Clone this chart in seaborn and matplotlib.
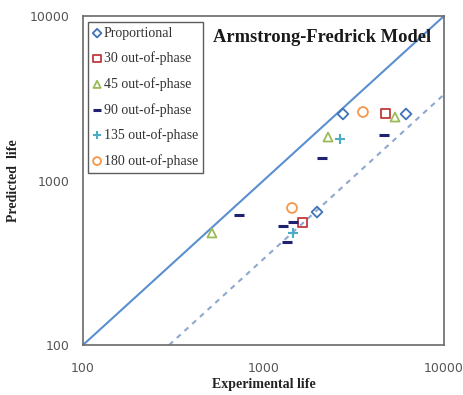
import matplotlib
matplotlib.use("Agg")
import matplotlib.pyplot as plt
import seaborn as sns
import pandas as pd
from matplotlib.ticker import LogLocator, NullFormatter, FixedLocator, FixedFormatter

sns.set_style("white")

# ---- data ----
series_names = ["Proportional", "30 out-of-phase", "45 out-of-phase",
                "90 out-of-phase", "135 out-of-phase", "180 out-of-phase"]
prop_x = [2756, 6158, 1979]
prop_y = [2537, 2537, 643]
p30_x = [4771, 1655]
p30_y = [2537, 559]
p45_x = [518, 2277, 5351]
p45_y = [480, 1838, 2432]
p90_x = [732, 2110, 4651, 1283, 1350, 1457]
p90_y = [617, 1370, 1890, 529, 423, 559]
p135_x = [2653, 1457]
p135_y = [1788, 480]
p180_x = [3557, 1438]
p180_y = [2609, 681]

line_x = [100, 10000]
line_y = [100, 10000]
factor3_x = [300, 10000]
factor3_y = [100, 3333]

tick_values = [100, 1000, 10000]
tick_labels = ["100", "1000", "10000"]

xs = [prop_x, p30_x, p45_x, p90_x, p135_x, p180_x]
ys = [prop_y, p30_y, p45_y, p90_y, p135_y, p180_y]
colors = ["#3f74b8", "#c0393b", "#9bbb59", "#1f2270", "#4bacc6", "#f79646"]
markers = ["D", "s", "^", "_", "+", "o"]
sizes = [30, 42, 42, 60, 45, 50]

fig = plt.figure(figsize=(4.64, 3.95), dpi=100)
ax = fig.add_axes([83/464, 1 - 345/395, 361/464, 329/395])
ax.set_xscale("log")
ax.set_yscale("log")

sns.lineplot(x=line_x, y=line_y, ax=ax, color="#5a8fd0", lw=1.5, zorder=1)
sns.lineplot(x=factor3_x, y=factor3_y, ax=ax, color="#8fa8cf", lw=1.5,
             zorder=1, linestyle=(0, (2.5, 2.5)))

for name, x, y, c, m, s in zip(series_names, xs, ys, colors, markers, sizes):
    df = pd.DataFrame({"x": x, "y": y})
    if m in ("_", "+"):
        sns.scatterplot(data=df, x="x", y="y", ax=ax, marker=m, s=s,
                        color=c, linewidth=2.2 if m == "_" else 1.5,
                        label=name, zorder=3)
    else:
        sns.scatterplot(data=df, x="x", y="y", ax=ax, marker=m, s=s,
                        facecolor="none", edgecolor=c, linewidth=1.3,
                        label=name, zorder=3)

ax.set_xlim(100, 10000)
ax.set_ylim(100, 10000)

for a in (ax.xaxis, ax.yaxis):
    a.set_major_locator(FixedLocator(tick_values))
    a.set_major_formatter(FixedFormatter(tick_labels))
    a.set_minor_locator(LogLocator(base=10, subs=range(2, 10)))
    a.set_minor_formatter(NullFormatter())

ax.tick_params(axis="both", which="both", direction="in", color="#888888",
               labelcolor="#555555", labelsize=9)
ax.tick_params(axis="both", which="major", length=4, width=0.8)
ax.tick_params(axis="both", which="minor", length=2.5, width=0.6)
ax.tick_params(axis="x", which="major", pad=12)
ax.tick_params(axis="y", which="major", pad=10)
for lab in ax.get_xticklabels() + ax.get_yticklabels():
    lab.set_family("DejaVu Sans")

for sp in ax.spines.values():
    sp.set_visible(True)
    sp.set_color("#6a6a6a")
    sp.set_linewidth(1.2)

ax.set_xlabel("Experimental life", fontfamily="Liberation Serif",
              fontweight="bold", fontsize=10, color="#222222")
ax.set_ylabel("Predicted  life", fontfamily="Liberation Serif",
              fontweight="bold", fontsize=10, color="#222222")
ax.xaxis.set_label_coords(0.5, -0.1)
ax.yaxis.set_label_coords(-0.175, 0.5)

ax.text(0.36, 0.935, "Armstrong-Fredrick Model", transform=ax.transAxes,
        fontfamily="Liberation Serif", fontweight="bold", fontsize=13.3,
        color="#1a1a1a", va="center", ha="left")

leg = ax.legend(loc="upper left", bbox_to_anchor=(0.014, 0.982),
                prop={"family": "Liberation Serif", "size": 10},
                frameon=True, fancybox=False, edgecolor="#333333",
                labelspacing=0.85, handlelength=0.6, handletextpad=0.2,
                borderpad=0.35, borderaxespad=0.0, markerscale=0.8)
leg.get_frame().set_linewidth(1.0)
for t in leg.get_texts():
    t.set_color("#333333")

fig.savefig("out.png", dpi=100, facecolor="white")
